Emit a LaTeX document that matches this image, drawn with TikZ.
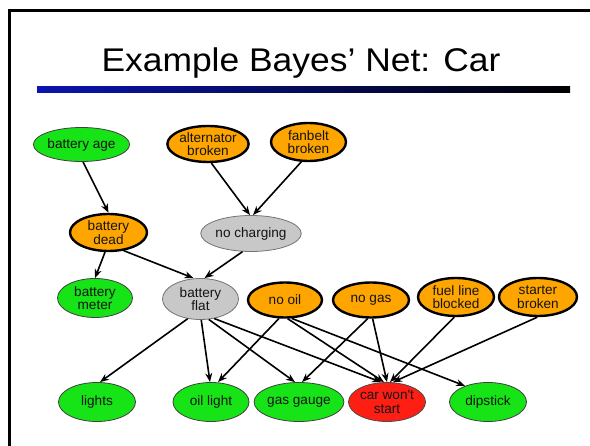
\documentclass[tikz,border=0pt]{standalone}
\usepackage{graphicx}
\usepackage{fontspec}
\setmainfont{Liberation Sans}
\newfontfamily\nodefont{Liberation Sans}
\usetikzlibrary{arrows.meta,shapes.geometric}
\definecolor{ngreen}{RGB}{22,228,22}
\definecolor{norange}{RGB}{255,165,0}
\definecolor{ngray}{RGB}{200,200,200}
\definecolor{nred}{RGB}{255,30,20}
\definecolor{tblue}{RGB}{10,20,175}
\begin{document}
\begin{tikzpicture}[x=1pt,y=-1pt,
  bnode/.style={ellipse, inner sep=0pt, align=center,
    font=\nodefont\fontsize{13.6}{13.6}\selectfont, text=black!92},
  evid/.style={bnode, fill=ngreen, draw=black!75, line width=0.8pt},
  cause/.style={bnode, fill=norange, draw=black, line width=2.4pt},
  hid/.style={bnode, fill=ngray, draw=black!55, line width=0.8pt},
  goal/.style={bnode, fill=nred, draw=black!70, line width=0.8pt},
  arr/.style={line width=1.6pt, -{Stealth[length=9pt,width=7pt]}}]
\useasboundingbox (0,0) rectangle (590,446);
\begin{scope}
\clip (0,0) rectangle (590,446);
\draw[line width=2.6pt] (600,10.5) -- (9.5,10.5) -- (9.5,460);
\end{scope}
\node[anchor=base] (title) at (301,72)
  {\scalebox{1.08}[1]{\fontsize{32.8}{36}\selectfont Example Bayes’ Net: Car}};
\shade[left color=tblue, right color=black] (37,87) rectangle (570,93);

% top row
\node[evid, minimum width=76pt, minimum height=34pt] (bage) at (81.5,144.5) {battery age};
\node[cause, minimum width=76pt, minimum height=36pt] (alt) at (208,144) {alternator\\broken};
\node[cause, minimum width=75pt, minimum height=38pt] (fan) at (308.5,142) {fanbelt\\broken};
% second row
\node[cause, minimum width=77pt, minimum height=37pt] (bdead) at (108.5,232.5) {battery\\dead};
\node[hid, minimum width=85pt, minimum height=36pt] (nochg) at (251,233.5) {no charging};
% third row
\node[evid, minimum width=75pt, minimum height=39pt] (bmeter) at (95,298) {battery\\meter};
\node[hid, minimum width=76pt, minimum height=41pt] (bflat) at (200.5,299) {battery\\flat};
\node[cause, minimum width=74pt, minimum height=35pt] (nooil) at (285,300) {no oil};
\node[cause, minimum width=76pt, minimum height=35pt] (nogas) at (371,300) {no gas};
\node[cause, minimum width=76pt, minimum height=38pt] (fuel) at (456,297) {fuel line\\blocked};
\node[cause, minimum width=78pt, minimum height=38pt] (starter) at (538,297) {starter\\broken};
% bottom row
\node[evid, minimum width=77pt, minimum height=39pt] (lights) at (97,402) {lights};
\node[evid, minimum width=76pt, minimum height=39pt] (oill) at (211,402) {oil light};
\node[evid, minimum width=77pt, minimum height=39pt] (gasg) at (299,402) {gas gauge};
\node[goal, minimum width=77pt, minimum height=39pt] (car) at (387,402) {car won't\\start};
\node[evid, minimum width=77pt, minimum height=39pt] (dip) at (488,402) {dipstick};

% edges
\draw[arr] (bage.-85) -- (bdead.north);
\draw[arr] (alt.-80) -- ([xshift=-1pt]nochg.north);
\draw[arr] (fan.-110) -- ([xshift=2pt]nochg.north);
\draw[arr] (bdead.-100) -- (bmeter.north);
\draw[arr] (bdead.-50) -- ([xshift=-7pt]bflat.north);
\draw[arr] (nochg.-115) -- ([xshift=4pt]bflat.north);
\draw[arr] (bflat.-123) -- ([xshift=3pt]lights.north);
\draw[arr] (bflat.-88) -- ([xshift=-1pt]oill.north);
\draw[arr] (nooil.-108) -- ([xshift=7pt]oill.north);
\draw[arr] (bflat.-68) -- ([xshift=-4pt]gasg.north);
\draw[arr] (nogas.-100) -- ([xshift=3pt]gasg.north);
\draw[arr] (bflat.-55) -- ([xshift=-6pt]car.north);
\draw[arr] (nooil.-82) -- ([xshift=-3pt]car.north);
\draw[arr] (nogas.-85) -- (car.north);
\draw[arr] (fuel.-95) -- ([xshift=3pt]car.north);
\draw[arr] (starter.-92) -- ([xshift=6pt]car.north);
\draw[arr] (nooil.-70) -- (dip.145);
\end{tikzpicture}
\end{document}
